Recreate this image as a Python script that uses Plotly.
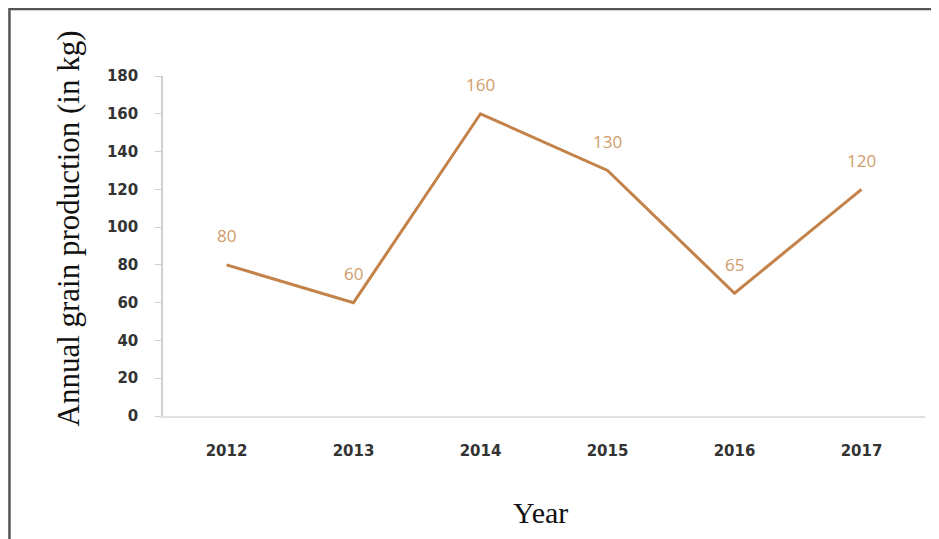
import plotly.graph_objects as go

years = ["2012", "2013", "2014", "2015", "2016", "2017"]
production = [80, 60, 160, 130, 65, 120]
y_ticks = [0, 20, 40, 60, 80, 100, 120, 140, 160, 180]

line_color = "#C4824B"
label_color = "#CF9C6A"
serif = "Liberation Serif, Times New Roman, serif"

fig = go.Figure()
fig.add_trace(go.Scatter(
    x=years, y=production, mode="lines",
    line=dict(color=line_color, width=3),
    hoverinfo="x+y", showlegend=False,
))

annotations = [
    dict(x=i, y=v, xref="x", yref="y", text=str(v), showarrow=False, yshift=29,
         font=dict(family="Open Sans, sans-serif", size=17, color=label_color))
    for i, v in enumerate(production)
]
annotations.append(dict(
    x=0.495, y=-0.283, xref="paper", yref="paper", text="Year", showarrow=False,
    xanchor="center", yanchor="middle",
    font=dict(family=serif, size=30, color="#111")))
annotations.append(dict(
    x=-0.124, y=0.55, xref="paper", yref="paper",
    text="Annual grain production (in kg)", showarrow=False, textangle=-90,
    xanchor="center", yanchor="middle",
    font=dict(family=serif, size=31, color="#111")))

fig.update_layout(
    width=931, height=531,
    margin=dict(l=155, r=14, t=68, b=123),
    paper_bgcolor="white", plot_bgcolor="white",
    annotations=annotations,
    xaxis=dict(
        type="category", range=[-0.5, 5.5],
        showline=True, linecolor="#e0e0e0", linewidth=1.5,
        showgrid=False, ticks="", zeroline=False,
        tickfont=dict(family="DejaVu Sans, sans-serif", size=15, color="#333", weight="bold"),
        ticklabelstandoff=20,
    ),
    yaxis=dict(
        range=[0, 180], tickvals=y_ticks,
        showline=True, linecolor="#cfcfcf", linewidth=1.5,
        ticks="outside", ticklen=6, tickcolor="#cfcfcf",
        showgrid=False, zeroline=False,
        tickfont=dict(family="DejaVu Sans, sans-serif", size=15, color="#333", weight="bold"),
        ticklabelstandoff=14,
    ),
    shapes=[
        dict(type="rect", xref="paper", yref="paper",
             x0=-0.2015, x1=1.05, y0=-0.5, y1=1.197,
             line=dict(color="#555", width=2.5), layer="above"),
    ],
)

fig.write_html("out.html")
